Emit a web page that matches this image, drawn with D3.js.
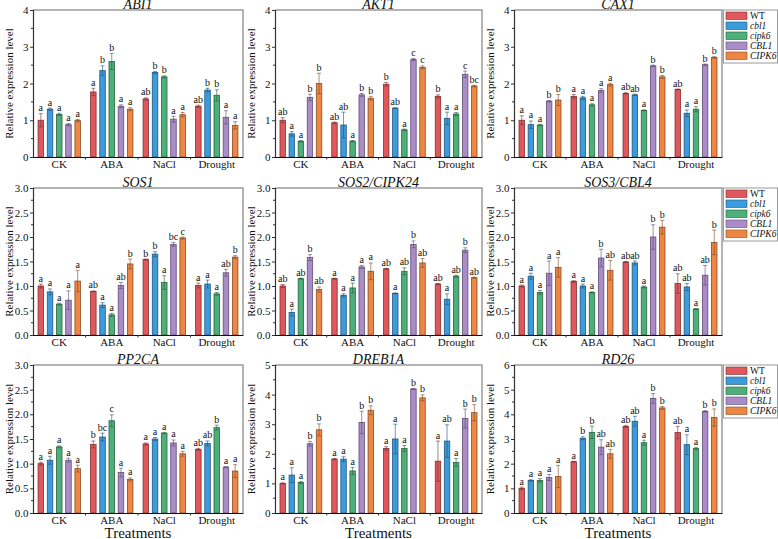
<!DOCTYPE html>
<html>
<head>
<meta charset="utf-8">
<script src="https://cdn.jsdelivr.net/npm/d3@7"></script>
<style>
  body { margin: 0; background: #fff; }
  text { font-family: "Liberation Serif", "Times New Roman", serif; }
</style>
</head>
<body>
<div id="chart"></div>
<script>
var treatments = ["CK", "ABA", "NaCl", "Drought"];
var genotypes = ["WT", "cbl1", "cipk6", "CBL1", "CIPK6"];
var colors = ["#e0585c", "#3c9bdc", "#4cb078", "#aa8cc8", "#ee8744"];

// values per treatment: [WT, cbl1, cipk6, CBL1, CIPK6]
var abi1Mean = [[1.0, 1.3, 1.16, 0.88, 0.99], [1.77, 2.35, 2.6, 1.38, 1.3], [1.58, 2.3, 2.18, 1.03, 1.15], [1.38, 1.82, 1.68, 1.08, 0.86]];
var abi1Sd = [[0.18, 0.03, 0.03, 0.03, 0.03], [0.1, 0.13, 0.22, 0.04, 0.04], [0.03, 0.03, 0.03, 0.08, 0.06], [0.03, 0.05, 0.15, 0.18, 0.1]];
var abi1Sig = [["a", "a", "a", "a", "a"], ["a", "b", "b", "a", "a"], ["ab", "b", "b", "a", "a"], ["ab", "b", "b", "a", "a"]];

var akt1Mean = [[1.0, 0.63, 0.43, 1.62, 2.0], [0.93, 0.87, 0.43, 1.69, 1.6], [1.98, 1.33, 0.74, 2.65, 2.44], [1.65, 1.05, 1.17, 2.25, 1.93]];
var akt1Sd = [[0.07, 0.06, 0.02, 0.09, 0.28], [0.02, 0.35, 0.02, 0.04, 0.05], [0.05, 0.01, 0.02, 0.03, 0.04], [0.04, 0.17, 0.04, 0.09, 0.02]];
var akt1Sig = [["ab", "a", "a", "b", "b"], ["ab", "ab", "a", "b", "b"], ["b", "ab", "a", "c", "c"], ["b", "a", "a", "c", "bc"]];

var cax1Mean = [[1.0, 0.88, 0.87, 1.52, 1.55], [1.65, 1.61, 1.42, 1.81, 1.97], [1.73, 1.69, 1.27, 2.48, 2.18], [1.84, 1.19, 1.3, 2.51, 2.71]];
var cax1Sd = [[0.12, 0.1, 0.02, 0.02, 0.15], [0.05, 0.04, 0.03, 0.05, 0.04], [0.02, 0.02, 0.01, 0.02, 0.04], [0.01, 0.09, 0.07, 0.02, 0.02]];
var cax1Sig = [["a", "a", "a", "b", "b"], ["a", "a", "a", "a", "a"], ["ab", "ab", "a", "b", "b"], ["ab", "a", "a", "b", "b"]];

var sos1Mean = [[1.0, 0.88, 0.63, 0.71, 1.1], [0.89, 0.61, 0.41, 1.01, 1.45], [1.54, 1.65, 1.07, 1.85, 1.98], [1.01, 1.04, 0.84, 1.27, 1.59]];
var sos1Sd = [[0.04, 0.06, 0.02, 0.19, 0.22], [0.01, 0.05, 0.03, 0.06, 0.1], [0.01, 0.05, 0.14, 0.04, 0.02], [0.05, 0.08, 0.03, 0.07, 0.03]];
var sos1Sig = [["a", "a", "a", "a", "a"], ["ab", "a", "a", "ab", "b"], ["b", "b", "a", "bc", "c"], ["a", "a", "a", "ab", "b"]];

var sos2Mean = [[1.0, 0.46, 1.15, 1.58, 0.93], [1.15, 0.81, 0.96, 1.39, 1.3], [1.35, 0.85, 1.3, 1.85, 1.47], [1.04, 0.73, 1.2, 1.73, 1.17]];
var sos2Sd = [[0.03, 0.07, 0.01, 0.06, 0.05], [0.01, 0.03, 0.1, 0.03, 0.17], [0.01, 0.01, 0.07, 0.07, 0.09], [0.01, 0.11, 0.02, 0.05, 0.01]];
var sos2Sig = [["ab", "a", "ab", "b", "ab"], ["a", "a", "a", "a", "a"], ["ab", "a", "ab", "b", "ab"], ["ab", "a", "ab", "b", "ab"]];

var sos3Mean = [[1.0, 1.2, 0.87, 1.26, 1.38], [1.09, 1.0, 0.87, 1.57, 1.32], [1.49, 1.47, 0.98, 2.0, 2.2], [1.05, 0.98, 0.53, 1.22, 1.89]];
var sos3Sd = [[0.02, 0.06, 0.04, 0.25, 0.2], [0.02, 0.04, 0.01, 0.18, 0.2], [0.01, 0.04, 0.02, 0.25, 0.14], [0.2, 0.07, 0.01, 0.2, 0.25]];
var sos3Sig = [["a", "a", "a", "a", "a"], ["a", "a", "a", "b", "ab"], ["ab", "ab", "a", "b", "b"], ["ab", "ab", "a", "ab", "b"]];

var pp2caMean = [[1.0, 1.07, 1.34, 1.07, 0.9], [1.39, 1.54, 1.87, 0.82, 0.68], [1.4, 1.5, 1.62, 1.42, 1.2], [1.29, 1.41, 1.73, 0.93, 0.85]];
var pp2caSd = [[0.03, 0.08, 0.02, 0.04, 0.07], [0.07, 0.08, 0.12, 0.09, 0.03], [0.02, 0.03, 0.01, 0.06, 0.05], [0.02, 0.05, 0.05, 0.01, 0.13]];
var pp2caSig = [["a", "a", "a", "a", "a"], ["b", "bc", "c", "a", "a"], ["a", "a", "a", "a", "a"], ["ab", "ab", "b", "a", "a"]];

var dreb1aMean = [[1.0, 1.28, 1.03, 2.34, 2.81], [1.82, 1.82, 1.42, 3.06, 3.47], [2.18, 2.5, 2.18, 4.19, 3.89], [1.75, 2.43, 1.71, 3.19, 3.39]];
var dreb1aSd = [[0.02, 0.25, 0.03, 0.08, 0.2], [0.02, 0.08, 0.12, 0.38, 0.15], [0.06, 0.5, 0.1, 0.02, 0.1], [0.68, 0.55, 0.13, 0.32, 0.27]];
var dreb1aSig = [["a", "a", "a", "b", "b"], ["a", "a", "a", "b", "b"], ["a", "a", "a", "b", "b"], ["a", "ab", "a", "b", "b"]];

var rd26Mean = [[1.0, 1.32, 1.32, 1.44, 1.48], [2.08, 3.03, 3.27, 2.67, 2.4], [3.51, 3.72, 2.85, 4.64, 4.26], [3.26, 2.77, 2.61, 4.12, 3.87]];
var rd26Sd = [[0.05, 0.03, 0.07, 0.12, 0.45], [0.02, 0.06, 0.25, 0.3, 0.18], [0.04, 0.2, 0.1, 0.2, 0.06], [0.25, 0.4, 0.04, 0.03, 0.35]];
var rd26Sig = [["a", "a", "a", "a", "a"], ["a", "b", "b", "ab", "ab"], ["ab", "ab", "a", "b", "b"], ["ab", "a", "a", "b", "b"]];

var panels = [
  {title: "ABI1", ymax: 4, step: 1, mean: abi1Mean, sd: abi1Sd, sig: abi1Sig},
  {title: "AKT1", ymax: 4, step: 1, mean: akt1Mean, sd: akt1Sd, sig: akt1Sig},
  {title: "CAX1", ymax: 4, step: 1, mean: cax1Mean, sd: cax1Sd, sig: cax1Sig},
  {title: "SOS1", ymax: 3, step: 0.5, mean: sos1Mean, sd: sos1Sd, sig: sos1Sig},
  {title: "SOS2/CIPK24", ymax: 3, step: 0.5, mean: sos2Mean, sd: sos2Sd, sig: sos2Sig},
  {title: "SOS3/CBL4", ymax: 3, step: 0.5, mean: sos3Mean, sd: sos3Sd, sig: sos3Sig},
  {title: "PP2CA", ymax: 3, step: 0.5, mean: pp2caMean, sd: pp2caSd, sig: pp2caSig},
  {title: "DREB1A", ymax: 5, step: 1, mean: dreb1aMean, sd: dreb1aSd, sig: dreb1aSig},
  {title: "RD26", ymax: 6, step: 1, mean: rd26Mean, sd: rd26Sd, sig: rd26Sig}
];

var cols = [[33, 243], [275, 482], [514, 722]];
var rows = [[10, 157], [188, 335], [365, 513]];

var svg = d3.select("#chart").append("svg")
  .attr("width", 778)
  .attr("height", 539);
svg.append("rect").attr("width", 778).attr("height", 539).attr("fill", "#fff");

panels.forEach(function(p, k){
  var c = cols[k % 3], r = rows[Math.floor(k / 3)];
  var width = c[1] - c[0], height = r[1] - r[0];
  var g = svg.append("g").attr("transform", "translate(" + c[0] + "," + r[0] + ")");

  var x0 = d3.scaleBand().domain(treatments).range([0, width]);
  var x1 = d3.scaleBand().domain(genotypes).range([0, x0.bandwidth()])
    .paddingInner(0.4).paddingOuter(0.55);
  var y = d3.scaleLinear().domain([0, p.ymax]).range([height, 0]);

  // frame top/right
  g.append("path")
    .attr("d", "M0,0H" + width + "V" + height)
    .attr("fill", "none").attr("stroke", "#9a9a9a").attr("stroke-width", 1.5);

  var rowsData = [];
  treatments.forEach(function(t, i){
    genotypes.forEach(function(gn, j){
      rowsData.push({t: t, g: gn, j: j, v: p.mean[i][j], sd: p.sd[i][j], s: p.sig[i][j]});
    });
  });

  var bar = g.selectAll(".bar").data(rowsData).enter().append("g").attr("class", "bar")
    .attr("transform", function(d){ return "translate(" + (x0(d.t) + x1(d.g)) + ",0)"; });
  var bw = x1.bandwidth();

  bar.append("rect")
    .attr("x", 0).attr("width", bw)
    .attr("y", function(d){ return y(d.v); })
    .attr("height", function(d){ return height - y(d.v); })
    .attr("fill", function(d){ return colors[d.j]; })
    .attr("stroke", function(d){ return d3.color(colors[d.j]).darker(1.6); })
    .attr("stroke-width", 0.8);

  // error bars
  var cap = 2;
  bar.append("path")
    .attr("d", function(d){
      var yt = y(d.v + d.sd), yb = y(d.v - d.sd), m = bw / 2;
      return "M" + m + "," + yt + "V" + yb +
        "M" + (m - cap) + "," + yt + "H" + (m + cap) +
        "M" + (m - cap) + "," + yb + "H" + (m + cap);
    })
    .attr("fill", "none")
    .attr("stroke", function(d){ return d3.color(colors[d.j]).darker(1.8); })
    .attr("stroke-opacity", 0.75)
    .attr("stroke-width", 0.8);

  bar.append("text")
    .attr("x", bw / 2)
    .attr("y", function(d){ return y(d.v + d.sd) - 2.5; })
    .attr("text-anchor", "middle")
    .attr("font-size", 10)
    .attr("fill", "#111")
    .text(function(d){ return d.s; });

  // y axis
  var major = d3.range(0, p.ymax + 1e-9, p.step);
  var minor = d3.range(p.step / 2, p.ymax, p.step);
  var yAxis = g.append("g").attr("class", "y axis")
    .call(d3.axisLeft(y).tickValues(major).tickSize(3).tickPadding(1.5)
      .tickFormat(p.step < 1 ? d3.format(".1f") : d3.format("d")));
  yAxis.select(".domain").attr("stroke", "#333").attr("stroke-width", 1.2);
  yAxis.selectAll(".tick line").attr("stroke", "#333");
  yAxis.selectAll("text").attr("font-size", 11).attr("fill", "#111")
    .style("font-family", "'Liberation Serif', 'Times New Roman', serif");
  g.append("g").selectAll("line").data(minor).enter().append("line")
    .attr("x1", -2).attr("x2", 0)
    .attr("y1", function(d){ return y(d); }).attr("y2", function(d){ return y(d); })
    .attr("stroke", "#333");

  // x axis
  var xAxis = g.append("g").attr("class", "x axis")
    .attr("transform", "translate(0," + height + ")")
    .call(d3.axisBottom(x0).tickSize(0).tickPadding(3.5));
  xAxis.select(".domain").attr("stroke", "#111").attr("stroke-width", 1.2);
  xAxis.selectAll("text").attr("font-size", 11).attr("fill", "#111")
    .style("font-family", "'Liberation Serif', 'Times New Roman', serif");
  xAxis.selectAll(".sep").data(treatments.slice(1)).enter().append("line")
    .attr("class", "sep")
    .attr("x1", function(d){ return x0(d); }).attr("x2", function(d){ return x0(d); })
    .attr("y1", 0).attr("y2", 2.5)
    .attr("stroke", "#333");

  // title
  g.append("text")
    .attr("x", width / 2).attr("y", -1.5)
    .attr("text-anchor", "middle")
    .attr("font-size", 14)
    .attr("font-style", "italic")
    .attr("fill", "#111")
    .text(p.title);

  // y label
  g.append("text")
    .attr("transform", "translate(-20," + (height / 2) + ") rotate(-90)")
    .attr("text-anchor", "middle")
    .attr("font-size", 11)
    .attr("fill", "#111")
    .text("Relative expression level");

  // x label on bottom row
  if (k >= 6) {
    g.append("text")
      .attr("x", width / 2).attr("y", height + 25)
      .attr("text-anchor", "middle")
      .attr("font-size", 15)
      .attr("fill", "#111")
      .text("Treatments");
  }

  // legend in right column
  if (k % 3 == 2) {
    var lg = g.append("g").attr("transform", "translate(" + (width + 1.5) + ",0)");
    lg.append("rect").attr("width", 54).attr("height", 53)
      .attr("fill", "#fff").attr("stroke", "#9a9a9a").attr("stroke-width", 1);
    var item = lg.selectAll(".item").data(genotypes).enter().append("g")
      .attr("transform", function(d, i){ return "translate(2.5," + (2 + i * 10) + ")"; });
    item.append("rect").attr("width", 21).attr("height", 7.5)
      .attr("fill", function(d, i){ return colors[i]; })
      .attr("stroke", function(d, i){ return d3.color(colors[i]).darker(1.6); })
      .attr("stroke-width", 0.6);
    item.append("text").attr("x", 24).attr("y", 7)
      .attr("font-size", 9.5)
      .attr("font-style", function(d){ return d == "WT" ? "normal" : "italic"; })
      .attr("fill", "#111")
      .text(function(d){ return d; });
  }
});
</script>
</body>
</html>
